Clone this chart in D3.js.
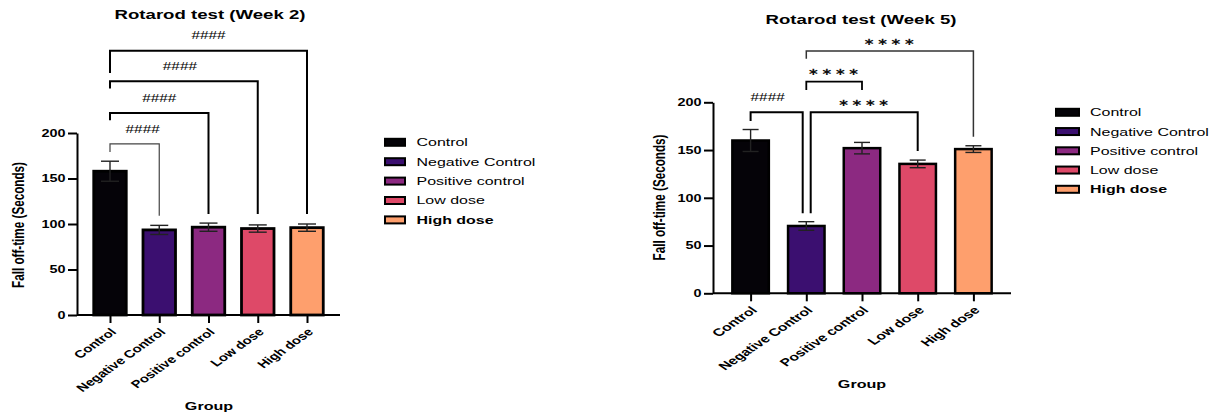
<!DOCTYPE html>
<html>
<head>
<meta charset="utf-8">
<script src="https://cdn.jsdelivr.net/npm/d3@7"></script>
<style>
  html, body { margin: 0; padding: 0; background: #fff; }
  svg { display: block; font-family: "Liberation Sans", Arial, sans-serif; }
</style>
</head>
<body>
<svg id="chart" width="1223" height="416"></svg>
<script>
// ---- data ----
const groups = ["Control", "Negative Control", "Positive control", "Low dose", "High dose"];
const groupColors = ["#050308", "#3b0f70", "#8c2981", "#de4968", "#fe9f6d"];
const yTicks = [0, 50, 100, 150, 200];

const week2Means = [158, 93.5, 96.5, 95, 96];
const week2Errors = [11, 5, 4.5, 4, 4];
const week5Means = [160, 70.5, 152, 135.5, 151];
const week5Errors = [11.5, 4.5, 6, 4, 3.5];

// significance comparisons: [group A, group B, label]
const week2Comparisons = [
  ["Control", "Negative Control", "####"],
  ["Control", "Positive control", "####"],
  ["Control", "Low dose", "####"],
  ["Control", "High dose", "####"]
];
const week5Comparisons = [
  ["Control", "Negative Control", "####"],
  ["Negative Control", "Positive control", "****"],
  ["Negative Control", "Low dose", "****"],
  ["Negative Control", "High dose", "****"]
];

// ---- layout ----
const SX = 1.4; // horizontal text stretch
const svg = d3.select("#chart");
svg.append("rect").attr("width", 1223).attr("height", 416).attr("fill", "#fff");

function stretched(parent, x, y, txt, o = {}) {
  const g = parent.append("g")
    .attr("transform", `translate(${x},${y}) scale(${SX},1)` + (o.rotate ? ` rotate(${o.rotate})` : ""));
  return g.append("text")
    .attr("text-anchor", o.anchor || "middle")
    .attr("dy", o.dy || "0.35em")
    .attr("font-size", o.size || 11)
    .attr("font-weight", o.weight || "normal")
    .attr("fill", o.fill || "#000")
    .text(txt);
}

function drawPanel(cfg) {
  const g = svg.append("g");
  const x = d3.scalePoint().domain(groups).range([cfg.x0, cfg.x1]).padding(cfg.pad);
  const y = d3.scaleLinear().domain([0, 200]).range([cfg.y0, cfg.y200]);
  const bw = x.step() * cfg.barFrac;
  const rows = groups.map((k, i) => ({ k, m: cfg.means[i], e: cfg.errors[i], c: groupColors[i] }));

  // bars
  g.selectAll("rect.bar").data(rows).join("rect")
    .attr("class", "bar")
    .attr("x", d => x(d.k) - bw / 2)
    .attr("width", bw)
    .attr("y", d => y(d.m))
    .attr("height", d => y(0) - y(d.m))
    .attr("fill", d => d.c)
    .attr("stroke", "#000")
    .attr("stroke-width", cfg.barStroke);

  // error bars
  const eb = g.selectAll("g.err").data(rows).join("g").attr("class", "err")
    .attr("stroke", "#222").attr("stroke-width", 1.4);
  eb.append("line").attr("x1", d => x(d.k)).attr("x2", d => x(d.k))
    .attr("y1", d => y(d.m - d.e)).attr("y2", d => y(d.m + d.e));
  eb.append("line").attr("x1", d => x(d.k) - cfg.cap).attr("x2", d => x(d.k) + cfg.cap)
    .attr("y1", d => y(d.m + d.e)).attr("y2", d => y(d.m + d.e));
  eb.append("line").attr("x1", d => x(d.k) - cfg.cap).attr("x2", d => x(d.k) + cfg.cap)
    .attr("y1", d => y(d.m - d.e)).attr("y2", d => y(d.m - d.e));

  // y axis
  const ya = g.append("g").attr("transform", `translate(${cfg.x0},0)`)
    .call(d3.axisLeft(y).tickValues(yTicks).tickSize(9).tickSizeOuter(0));
  ya.select(".domain").attr("stroke-width", 2);
  ya.selectAll(".tick line").attr("stroke-width", 2);
  ya.selectAll(".tick text")
    .attr("x", -11.5 / SX).attr("transform", `scale(${SX},1)`)
    .attr("font-size", 10.3).attr("font-weight", "bold")
    .attr("font-family", "Liberation Sans, Arial, sans-serif").attr("fill", "#000");

  // x axis
  const xa = g.append("g").attr("transform", `translate(0,${cfg.y0})`)
    .call(d3.axisBottom(x).tickSize(8).tickSizeOuter(0));
  xa.select(".domain").attr("stroke-width", 2)
    .attr("d", `M${cfg.x0},0H${cfg.x1}`);
  xa.selectAll(".tick line").attr("stroke-width", 2);
  xa.selectAll(".tick text")
    .attr("y", 0).attr("dy", "0.35em").attr("x", 0)
    .attr("text-anchor", "end")
    .attr("transform", `translate(3,15) scale(${cfg.labelSX || SX},1) rotate(-45)`)
    .attr("font-size", 10.6).attr("font-weight", "bold")
    .attr("font-family", "Liberation Sans, Arial, sans-serif").attr("fill", "#000");

  // significance brackets
  cfg.comparisons.forEach((c, i) => {
    const L = cfg.bracketLayout[i];
    const xa_ = x(c[0]) + (L.dxA || 0), xb_ = x(c[1]) + (L.dxB || 0);
    g.append("path")
      .attr("d", `M${xa_},${y(L.endA)}V${y(L.level)}H${xb_}V${y(L.endB)}`)
      .attr("fill", "none").attr("stroke", L.color || "#000")
      .attr("stroke-width", L.width || 2);
    const isStar = c[2].startsWith("*");
    stretched(g, (xa_ + xb_) / 2 + (L.dxLabel || 0), y(L.level) - (isStar ? 10 : 15), isStar ? "∗∗∗∗" : c[2], {
      size: isStar ? 10 : 11, weight: isStar ? "bold" : "normal", fill: isStar ? "#111" : "#000"
    }).attr("letter-spacing", isStar ? 1.2 : 0).attr("font-family", isStar ? "DejaVu Sans, sans-serif" : null);
  });

  // title and axis labels
  stretched(g, cfg.titleX, cfg.titleY, cfg.title, { size: 13.3, weight: "bold" });
  stretched(g, cfg.groupX, cfg.groupY, "Group", { size: 11.5, weight: "bold" });
  stretched(g, cfg.ylabX, cfg.ylabY, "Fall off-time (Seconds)", { size: 11.7, weight: "bold", rotate: -90 });

  // legend
  groups.forEach((k, i) => {
    const cy = cfg.legY + i * cfg.legStep;
    g.append("rect").attr("x", cfg.legX).attr("y", cy - 3.5)
      .attr("width", cfg.legW).attr("height", 7)
      .attr("fill", groupColors[i]).attr("stroke", "#000").attr("stroke-width", 2);
    stretched(g, cfg.legTextX, cy, k, {
      anchor: "start", size: 11.4, weight: k === "High dose" ? "bold" : "normal"
    });
  });
}

drawPanel({
  x0: 77, x1: 340, pad: 0.67, y0: 315, y200: 133, barFrac: 0.66, barStroke: 2.8, cap: 9,
  means: week2Means, errors: week2Errors, comparisons: week2Comparisons,
  bracketLayout: [
    { level: 188, endA: 179, endB: 109, width: 1.2, color: "#444", dxLabel: 8 },
    { level: 222, endA: 214, endB: 111 },
    { level: 257, endA: 249, endB: 111, dxLabel: -4 },
    { level: 290.5, endA: 266, endB: 111 }
  ],
  title: "Rotarod test (Week 2)", titleX: 210, titleY: 14,
  groupX: 209, groupY: 406, ylabX: 18, ylabY: 225,
  legX: 385, legW: 20, legY: 142.3, legStep: 19.4, legTextX: 416.5
});

drawPanel({
  x0: 713, x1: 1011, pad: 0.675, y0: 293.3, y200: 102.3, barFrac: 0.655, barStroke: 2.5, cap: 8,
  labelSX: 1.48,
  means: week5Means, errors: week5Errors, comparisons: week5Comparisons,
  bracketLayout: [
    { level: 189.5, endA: 180.4, endB: 83.8, dxB: -3.6, dxLabel: -9 },
    { level: 221.6, endA: 213, endB: 213, width: 1.8 },
    { level: 189.5, endA: 83.8, endB: 149, dxA: 4.4 },
    { level: 253.7, endA: 245.5, endB: 164, width: 1.5, color: "#333" }
  ],
  title: "Rotarod test (Week 5)", titleX: 861, titleY: 19,
  groupX: 862, groupY: 384, ylabX: 659, ylabY: 197.5,
  legX: 1056, legW: 23, legY: 112.3, legStep: 19.25, legTextX: 1090
});
</script>
</body>
</html>
